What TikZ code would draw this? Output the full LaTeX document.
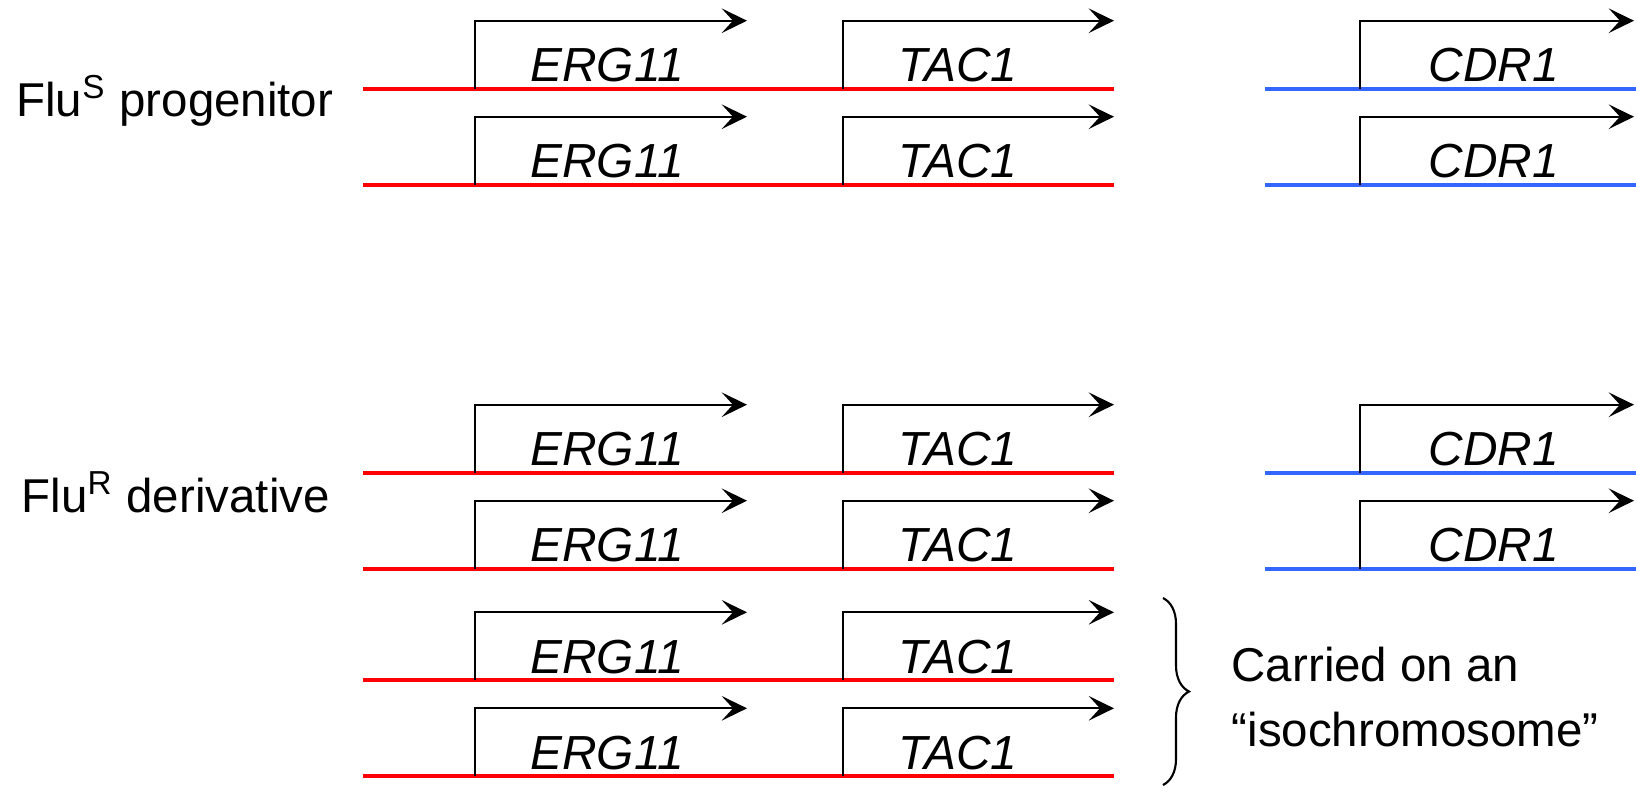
\documentclass[tikz,border=0pt]{standalone}
\usepackage{fontspec}
\setmainfont{Liberation Sans}
\usepackage{xcolor}
\usetikzlibrary{positioning,arrows.meta,decorations.pathreplacing}
\definecolor{chrred}{RGB}{255,0,0}
\definecolor{chrblue}{RGB}{51,102,255}
\begin{document}
\begin{tikzpicture}[
    x=0.01cm,y=-0.01cm,
    redchr/.style={draw=chrred,line width=1.1pt},
    bluechr/.style={draw=chrblue,line width=1.1pt},
    tss/.style={draw=black,line width=0.6pt,-{Stealth[length=7.2pt,width=7pt,inset=3.2pt]}},
    gene/.style={font=\fontsize{13.6}{16}\selectfont\itshape,anchor=base,inner sep=0pt},
    lbl/.style={font=\fontsize{13.5}{18.5}\selectfont,anchor=west,inner sep=0pt,align=left}]
\useasboundingbox (0,0) rectangle (1636,787);
% red strands with ERG11 and TAC1
\foreach \y/\n in {88.7/a,184.7/b,472.7/c,568.7/d,680.3/e,776.3/f}{
  \coordinate (L\n) at (363,\y);
  \coordinate (R\n) at (1114,\y);
  \coordinate (erg\n) at (474.7,\y);
  \coordinate (tac\n) at (843,\y);
  \draw[redchr] (L\n) -- (R\n);
  \draw[tss] (erg\n) |- +(272.3,-68);
  \draw[tss] (tac\n) |- +(271,-68);
  \node[gene] (ergl\n) at (607,{\y-7}) {ERG11};
  \node[gene] (tacl\n) at (958,{\y-7}) {TAC1};
}
% blue strands with CDR1
\foreach \y/\n in {88.7/a,184.7/b,472.7/c,568.7/d}{
  \coordinate (BL\n) at (1265,\y);
  \coordinate (BR\n) at (1636,\y);
  \coordinate (cdr\n) at (1359.6,\y);
  \draw[bluechr] (BL\n) -- (BR\n);
  \draw[tss] (cdr\n) |- +(274.4,-68);
  \node[gene] (cdrl\n) at (1494,{\y-7}) {CDR1};
}
\node[lbl] (prog) at (15.7,101) {Flu\textsuperscript{S} progenitor};
\node[lbl] (deriv) at (21,492.5) {Flu\textsuperscript{R} derivative};
% isochromosome brace
\coordinate (btop) at (1163,598);
\coordinate (bbot) at (1163,785);
\draw[line width=0.6pt,decorate,decoration={brace,amplitude=0.26cm}] (btop) -- (bbot);
\node[lbl] (iso) at (1231,697) {Carried on an\\“isochromosome”};
\end{tikzpicture}
\end{document}
